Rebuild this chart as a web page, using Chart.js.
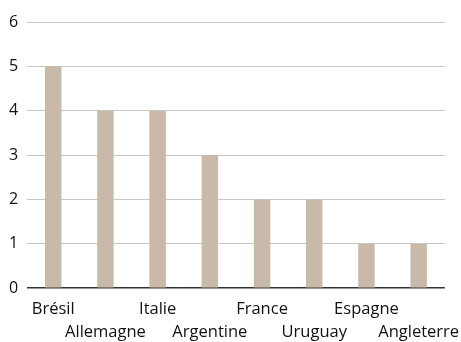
<!DOCTYPE html>
<html>
<head>
<meta charset="utf-8">
<script src="https://cdn.jsdelivr.net/npm/chart.js@4/dist/chart.umd.min.js"></script>
<style>
  html, body { margin: 0; padding: 0; background: #ffffff; }
  #wrap { width: 461px; height: 342px; }
</style>
</head>
<body>
<div id="wrap"><canvas id="c" width="461" height="342"></canvas></div>
<script>
// Titles won per country
const countries = ['Brésil', 'Allemagne', 'Italie', 'Argentine', 'France', 'Uruguay', 'Espagne', 'Angleterre'];
const titles = [5, 4, 4, 3, 2, 2, 1, 1];
const yTicks = [0, 1, 2, 3, 4, 5, 6];

// Alternate labels between two rows so they don't collide
const staggered = countries.map((name, i) => (i % 2 === 0 ? [name, ''] : ['', name]));

new Chart(document.getElementById('c'), {
  type: 'bar',
  data: {
    labels: staggered,
    datasets: [{
      data: titles,
      backgroundColor: '#c8b9a8',
      borderWidth: 0,
      barPercentage: 0.63,
      categoryPercentage: 0.5
    }]
  },
  options: {
    responsive: false,
    animation: false,
    layout: { padding: { top: 22, right: 15, left: 0, bottom: -3 } },
    plugins: { legend: { display: false }, tooltip: { enabled: false } },
    scales: {
      x: {
        grid: { display: false },
        border: { display: false },
        ticks: {
          color: '#111111',
          font: { family: 'Open Sans', size: 16.5, lineHeight: 1.42 },
          maxRotation: 0,
          autoSkip: false,
          padding: 1
        }
      },
      y: {
        min: 0,
        max: 6,
        afterBuildTicks: axis => { axis.ticks = yTicks.map(v => ({ value: v })); },
        grid: {
          drawTicks: false,
          color: ctx => (ctx.tick && ctx.tick.value === 0 ? '#333333' : '#c8c8c8'),
          lineWidth: ctx => (ctx.tick && ctx.tick.value === 0 ? 1.5 : 1)
        },
        border: { display: false },
        ticks: {
          color: '#111111',
          font: { family: 'Open Sans', size: 16 },
          padding: 9
        }
      }
    }
  }
});
</script>
</body>
</html>
